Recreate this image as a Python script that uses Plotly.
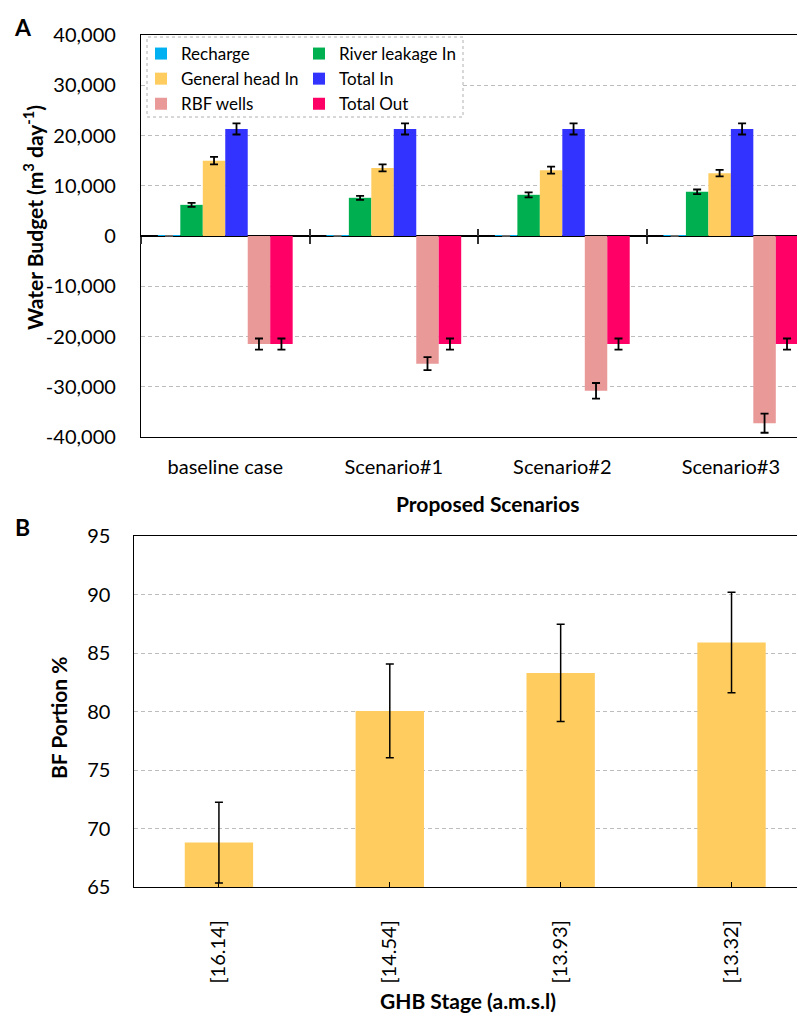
import plotly.graph_objects as go

# ---------------- data ----------------
scenarios = ["baseline case", "Scenario#1", "Scenario#2", "Scenario#3"]

recharge = [30, 30, 30, 30]
recharge_err = [0, 0, 0, 0]
river_in = [6200, 7600, 8200, 8800]
river_in_err = [400, 400, 500, 450]
ghb_in = [15000, 13550, 13100, 12500]
ghb_in_err = [750, 700, 700, 650]
total_in = [21300, 21300, 21300, 21300]
total_in_err = [1100, 1100, 1100, 1100]
rbf_wells = [-21500, -25400, -30800, -37250]
rbf_wells_err = [1100, 1300, 1550, 1900]
total_out = [-21500, -21500, -21500, -21500]
total_out_err = [1100, 1100, 1100, 1100]

budget_tickvals = [-40000, -30000, -20000, -10000, 0, 10000, 20000, 30000, 40000]
budget_ticktext = ["-40,000", "-30,000", "-20,000", "-10,000", "0",
                   "10,000", "20,000", "30,000", "40,000"]

stages = ["[16.14]", "[14.54]", "[13.93]", "[13.32]"]
bf_portion = [68.8, 80.05, 83.3, 85.9]
bf_portion_err = [3.45, 4.0, 4.15, 4.3]

# ---------------- layout helpers ----------------
# the page body has an 8px margin, so the figure is sized to fill the rest
OFF = 8
W, H = 805 - OFF, 1014 - OFF


def fx(sx):
    return (sx - OFF) / W


def fy(sy):
    return 1 - (sy - OFF) / H


FONT = "Lato"
C_RECH = "#00B0F0"
C_RIV = "#00B050"
C_GHB = "#FFCC5F"
C_TIN = "#3333FF"
C_RBF = "#EA9999"
C_TOUT = "#FF0066"
GRID = "#BDBDBD"

top_y = [fy(437), fy(35)]
top_x = [fx(141), 1.0]
bot_y = [fy(887), fy(536)]
bot_x = [fx(133.5), 1.0]
zero_pos = (top_y[0] + top_y[1]) / 2

fig = go.Figure()


def err(arr, col="black"):
    return dict(type="data", array=arr, visible=True, color=col, thickness=1.8, width=4)


series = [
    ("Recharge", recharge, recharge_err, C_RECH, "legend", "#707070"),
    ("River leakage In", river_in, river_in_err, C_RIV, "legend2", "black"),
    ("General head In", ghb_in, ghb_in_err, C_GHB, "legend", "black"),
    ("Total In", total_in, total_in_err, C_TIN, "legend2", "black"),
    ("RBF wells", rbf_wells, rbf_wells_err, C_RBF, "legend", "black"),
    ("Total Out", total_out, total_out_err, C_TOUT, "legend2", "black"),
]
for name, vals, errs, col, leg, ecol in series:
    fig.add_trace(go.Bar(
        x=scenarios, y=vals, name=name, marker=dict(color=col, line=dict(width=0)),
        error_y=err(errs, ecol), xaxis="x", yaxis="y", legend=leg,
    ))

# helper traces for the crossing tick marks on the zero line
for ax in ("x2", "x3"):
    fig.add_trace(go.Scatter(
        x=scenarios, y=[0] * len(scenarios), xaxis=ax, yaxis="y", mode="markers",
        marker=dict(opacity=0), showlegend=False, hoverinfo="skip",
    ))

fig.add_trace(go.Bar(
    x=stages, y=bf_portion, width=0.4, marker=dict(color=C_GHB, line=dict(width=0)),
    error_y=dict(type="data", array=bf_portion_err, visible=True, color="black",
                 thickness=1.5, width=4),
    xaxis="x4", yaxis="y2", showlegend=False,
))

tick_font = dict(family=FONT, size=20, color="black")
title_font = dict(family=FONT, size=21, color="black")
leg_font = dict(family=FONT, size=17, color="black")

fig.update_layout(
    width=W, height=H,
    margin=dict(l=0, r=0, t=0, b=0, pad=0, autoexpand=False),
    paper_bgcolor="white", plot_bgcolor="white",
    font=dict(family=FONT, color="black"),
    barmode="group", bargap=0.2, bargroupgap=0,
    xaxis=dict(domain=top_x, anchor="y", type="category", range=[-0.5, 3.44],
               showline=True, linecolor="black", linewidth=1.3, mirror=True,
               ticks="", showgrid=False, tickfont=tick_font, ticklabelstandoff=12,
               automargin=False),
    xaxis2=dict(overlaying="x", anchor="free", position=zero_pos, type="category",
                range=[-0.5, 3.44], tickson="boundaries", ticks="outside", ticklen=7,
                tickwidth=1.5, tickcolor="#333333", showticklabels=False, showgrid=False,
                showline=False, zeroline=False, automargin=False),
    xaxis3=dict(overlaying="x", anchor="free", position=zero_pos, type="category",
                range=[-0.5, 3.44], tickson="boundaries", ticks="inside", ticklen=7,
                tickwidth=1.5, tickcolor="#333333", showticklabels=False, showgrid=False,
                showline=False, zeroline=False, automargin=False),
    yaxis=dict(domain=top_y, anchor="x", range=[-40000, 40000],
               tickmode="array", tickvals=budget_tickvals, ticktext=budget_ticktext,
               showline=True, linecolor="black", linewidth=1.3,
               showgrid=True, gridcolor=GRID, griddash="4px,3px", gridwidth=1,
               zeroline=True, zerolinecolor="black", zerolinewidth=1.5,
               ticks="", tickfont=tick_font, ticklabelstandoff=20, automargin=False),
    xaxis4=dict(domain=bot_x, anchor="y2", type="category", range=[-0.5, 3.43],
                showline=True, linecolor="black", linewidth=1.3, mirror=True,
                ticks="inside", ticklen=5, tickcolor="black", tickwidth=1,
                tickangle=-90, showgrid=False, tickfont=tick_font, ticklabelstandoff=24,
                automargin=False),
    yaxis2=dict(domain=bot_y, anchor="x4", range=[65, 95], dtick=5, tick0=65,
                showline=True, linecolor="black", linewidth=1.3,
                showgrid=True, gridcolor=GRID, griddash="4px,3px", gridwidth=1,
                zeroline=False, ticks="", tickfont=tick_font, ticklabelstandoff=18,
                automargin=False),
    legend=dict(x=fx(141), y=fy(36), xanchor="left", yanchor="top",
                orientation="v", bgcolor="rgba(0,0,0,0)", borderwidth=0,
                font=leg_font, tracegroupgap=0),
    legend2=dict(x=fx(299), y=fy(36), xanchor="left", yanchor="top",
                 orientation="v", bgcolor="rgba(0,0,0,0)", borderwidth=0,
                 font=leg_font, tracegroupgap=0),
    shapes=[dict(type="rect", xref="paper", yref="paper",
                 x0=fx(147), x1=fx(463), y0=fy(117), y1=fy(37),
                 line=dict(color="#B0B0B0", width=1, dash="dot"),
                 fillcolor="white", layer="above")],
    annotations=[
        dict(text="<b>A</b>", x=fx(23), y=fy(27), xref="paper", yref="paper",
             showarrow=False, xanchor="center", yanchor="middle",
             font=dict(family=FONT, size=23, color="black")),
        dict(text="<b>B</b>", x=fx(23), y=fy(527), xref="paper", yref="paper",
             showarrow=False, xanchor="center", yanchor="middle",
             font=dict(family=FONT, size=23, color="black")),
        dict(text="<b>Water Budget (m<sup>3</sup> day<sup>-1</sup>)</b>",
             x=fx(33), y=fy(218), xref="paper", yref="paper", textangle=-90,
             showarrow=False, xanchor="center", yanchor="middle", font=title_font),
        dict(text="<b>Proposed Scenarios</b>", x=fx(487), y=fy(503),
             xref="paper", yref="paper", showarrow=False, xanchor="center",
             yanchor="middle", font=title_font),
        dict(text="<b>BF Portion %</b>", x=fx(58), y=fy(718),
             xref="paper", yref="paper", textangle=-90, showarrow=False,
             xanchor="center", yanchor="middle", font=title_font),
        dict(text="<b>GHB Stage (a.m.s.l)</b>", x=fx(468), y=fy(1000),
             xref="paper", yref="paper", showarrow=False, xanchor="center",
             yanchor="middle", font=title_font),
    ],
)

fig.write_html("out.html")
